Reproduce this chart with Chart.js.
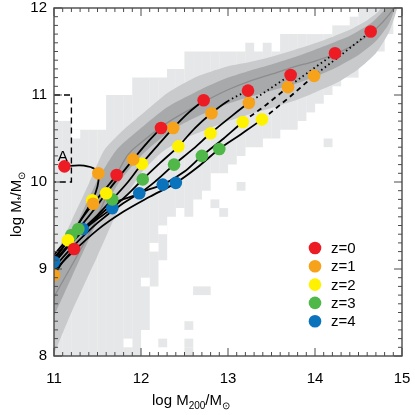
<!DOCTYPE html>
<html>
<head>
<meta charset="utf-8">
<script src="https://cdn.jsdelivr.net/npm/chart.js@4.4.1/dist/chart.umd.min.js"></script>
<style>
  html, body { margin: 0; padding: 0; background: #fff; }
  #wrap { width: 415px; height: 415px; }
</style>
</head>
<body>
<div id="wrap"><canvas id="chart"></canvas></div>
<script>
// histogramme gris clair : colonnes de 0.1 dex (bord gauche, bas, haut)
const histX  = [11.0, 11.1, 11.2, 11.3, 11.4, 11.5, 11.6, 11.7, 11.8, 11.9,
                12.0, 12.1, 12.2, 12.3, 12.4, 12.5, 12.6, 12.7, 12.8, 12.9,
                13.0, 13.1, 13.2, 13.3, 13.4, 13.5, 13.6, 13.7, 13.8, 13.9,
                14.0, 14.1, 14.2, 14.3, 14.4, 14.5, 14.6, 14.7, 14.8];
const histLo = [8.0, 8.0, 8.0, 8.0, 8.0, 8.0, 8.0, 8.0, 8.0, 8.0,
                8.3, 8.8, 9.1, 9.6, 9.7, 9.6, 9.8, 10.0, 10.1, 10.1,
                10.2, 10.3, 10.4, 10.4, 10.5, 10.5, 10.6, 10.6, 10.7, 10.8,
                10.9, 11.0, 11.1, 11.2, 11.2, 11.4, 11.5, 11.5, 11.7];
const histHi = [10.7, 10.7, 10.6, 10.6, 10.6, 10.6, 11.0, 11.0, 11.0, 11.2,
                11.2, 11.2, 11.2, 11.3, 11.3, 11.5, 11.5, 11.5, 11.5, 11.5,
                11.5, 11.5, 11.6, 11.5, 11.6, 11.5, 11.7, 11.7, 11.7, 11.7,
                11.7, 11.7, 11.8, 11.8, 11.9, 12.0, 12.0, 12.0, 12.0];
// cellules isolées et trous blancs
const histExtra = [[12.5, 8.0], [12.5, 8.1], [12.5, 8.3], [12.2, 8.1], [12.6, 8.7], [12.7, 8.7],
                   [12.8, 9.7], [12.9, 9.6], [13.1, 9.9], [12.7, 9.9], [14.1, 10.4]];
const histHoles = [[11.2, 10.5], [11.8, 8.1], [12.0, 8.8], [12.1, 9.2], [12.2, 9.4]];

// bandes de dispersion (contours)
const outerUp = [[10.9, 8.9], [11.0, 9.12], [11.2, 9.55], [11.4, 9.98], [11.58, 10.37], [11.8, 10.6],
                 [12.0, 10.77], [12.3, 11.02], [12.64, 11.21], [13.0, 11.33], [13.25, 11.38], [13.5, 11.44],
                 [13.83, 11.54], [14.1, 11.63], [14.4, 11.75], [14.6, 11.86], [14.72, 11.95], [14.8, 12.05]];
const outerLo = [[10.95, 7.9], [11.2, 8.5], [11.5, 9.15], [11.75, 9.7], [12.0, 10.1], [12.25, 10.35],
                 [12.5, 10.5], [12.75, 10.6], [13.0, 10.7], [13.25, 10.78], [13.5, 10.85], [13.75, 10.93],
                 [14.0, 11.03], [14.25, 11.14], [14.5, 11.3], [14.7, 11.48], [14.85, 11.72], [14.95, 12.05]];
const innerUp = [[10.9, 8.75], [11.0, 8.97], [11.3, 9.6], [11.5, 10.02], [11.72, 10.37], [12.0, 10.62],
                 [12.3, 10.86], [12.7, 11.07], [13.0, 11.2], [13.25, 11.28], [13.5, 11.35], [13.75, 11.43],
                 [14.0, 11.52], [14.4, 11.68], [14.65, 11.83], [14.8, 11.98], [14.85, 12.05]];
const innerLo = [[10.95, 8.35], [11.2, 8.9], [11.5, 9.55], [11.75, 10.0], [12.0, 10.3], [12.25, 10.52],
                 [12.5, 10.68], [12.75, 10.8], [13.0, 10.9], [13.25, 10.98], [13.5, 11.05], [13.75, 11.12],
                 [14.0, 11.21], [14.25, 11.32], [14.5, 11.46], [14.7, 11.62], [14.85, 11.82], [14.93, 12.05]];
const median  = [[10.9, 8.5], [11.0, 8.68], [11.4, 9.4], [11.84, 10.3], [12.0, 10.45], [12.3, 10.68],
                 [12.74, 10.93], [13.0, 11.06], [13.25, 11.16], [13.5, 11.24], [13.75, 11.32], [14.0, 11.39],
                 [14.25, 11.48], [14.5, 11.61], [14.7, 11.76], [14.85, 11.92], [14.92, 12.02]];

// trajectoires (du passé vers z=0) ; indices où la ligne devient tiretée / pointillée
const tracks = [
  [[10.95, 8.93], [11.2, 9.18], [11.5, 9.45], [11.8, 9.66], [12.1, 9.83], [12.4, 9.99], [12.65, 10.17],
   [12.9, 10.38], [13.15, 10.55], [13.39, 10.72], [13.7, 10.97], [13.99, 11.22], [14.3, 11.46], [14.64, 11.73]],
  [[10.95, 8.96], [11.2, 9.24], [11.5, 9.53], [11.8, 9.76], [12.05, 9.9], [12.25, 9.97], [12.5, 10.12],
   [12.7, 10.3], [12.95, 10.5], [13.17, 10.69], [13.43, 10.88], [13.69, 11.09], [13.95, 11.28], [14.23, 11.48]],
  [[10.95, 9.0], [11.2, 9.3], [11.45, 9.55], [11.7, 9.76], [11.98, 9.87], [12.18, 10.02], [12.38, 10.2],
   [12.6, 10.38], [12.8, 10.56], [13.02, 10.74], [13.24, 10.91], [13.48, 11.07], [13.72, 11.23]],
  [[10.95, 9.02], [11.15, 9.26], [11.4, 9.5], [11.67, 9.7], [11.85, 9.86], [12.02, 10.03], [12.22, 10.22],
   [12.43, 10.41], [12.62, 10.62], [12.81, 10.79], [13.0, 10.93], [13.23, 11.05]],
  [[10.95, 9.04], [11.15, 9.3], [11.33, 9.46], [11.5, 9.62], [11.67, 9.8], [11.85, 10.0], [12.01, 10.21],
   [12.2, 10.43], [12.37, 10.62], [12.55, 10.8], [12.72, 10.94]],
  [[10.95, 9.05], [11.1, 9.25], [11.28, 9.46], [11.45, 9.67], [11.6, 9.87], [11.75, 10.06], [11.91, 10.26],
   [12.07, 10.45], [12.23, 10.62]],
  [[10.95, 9.07], [11.05, 9.18], [11.16, 9.33], [11.3, 9.55], [11.45, 9.75], [11.6, 9.93], [11.72, 10.08]],
  [[10.95, 8.86], [11.0, 8.93], [11.1, 9.08], [11.23, 9.23]],
  [[10.95, 9.1], [11.1, 9.28], [11.2, 9.39], [11.33, 9.6], [11.44, 9.79], [11.5, 9.95], [11.51, 10.1],
   [11.45, 10.16], [11.3, 10.19], [11.12, 10.18]]
];
const trackDash = [9, 9, 99, 99, 99, 99, 99, 99, 99];
const trackDot  = [11, 11, 10, 10, 99, 99, 99, 99, 99];

// points colorés par redshift
const z0 = [[11.12, 10.18], [11.23, 9.23], [11.72, 10.08], [12.23, 10.62], [12.72, 10.94], [13.23, 11.05], [13.72, 11.23], [14.23, 11.48], [14.64, 11.73]];
const z1 = [[11.0, 8.93], [11.45, 9.75], [11.51, 10.1], [11.91, 10.26], [12.37, 10.62], [12.81, 10.79], [13.24, 10.91], [13.69, 11.09], [13.99, 11.22]];
const z2 = [[11.16, 9.33], [11.44, 9.79], [11.6, 9.87], [12.01, 10.21], [12.43, 10.41], [12.8, 10.56], [13.17, 10.69], [13.39, 10.72]];
const z3 = [[11.2, 9.39], [11.28, 9.46], [11.67, 9.8], [12.02, 10.03], [12.38, 10.2], [12.7, 10.3], [12.9, 10.38]];
const z4 = [[11.0, 9.08], [11.33, 9.46], [11.67, 9.7], [11.98, 9.87], [12.25, 9.97], [12.4, 9.99]];
const zSets = [z0, z1, z2, z3, z4];
const zLabels = ['z=0', 'z=1', 'z=2', 'z=3', 'z=4'];
const zColors = ['#ed1c24', '#f7a21b', '#fff200', '#50b848', '#0b72bc'];

// boîte tiretée autour de A
const boxA = [[11.0, 11.0], [11.2, 11.0], [11.2, 10.0], [11.0, 10.0]];

const pt = p => ({x: p[0], y: p[1]});
const isMajor = v => Math.abs(v - Math.round(v)) < 1e-6;
const FONT = '"Liberation Sans", Arial, Helvetica, sans-serif';

const datasets = [];

// points en premier (dessinés au-dessus)
zSets.forEach((set, i) => {
  datasets.push({
    type: 'scatter', label: zLabels[i], data: set.map(pt), order: 1,
    backgroundColor: zColors[i], borderWidth: 0, pointRadius: 6.3
  });
});

tracks.forEach((tr, i) => {
  const monotone = i < tracks.length - 1;
  datasets.push({
    type: 'line', data: tr.map(pt), order: 2,
    borderColor: '#000', borderWidth: 1.8, pointRadius: 0, fill: false,
    tension: monotone ? 0 : 0.3,
    cubicInterpolationMode: monotone ? 'monotone' : 'default',
    segment: {
      borderDash: ctx => ctx.p0DataIndex >= trackDot[i] ? [1.5, 3]
                       : ctx.p0DataIndex >= trackDash[i] ? [5, 4] : undefined
    }
  });
});

datasets.push({
  type: 'line', data: boxA.map(pt), order: 3,
  borderColor: '#000', borderWidth: 1.4, borderDash: [6, 4], pointRadius: 0, tension: 0, fill: false
});

datasets.push({
  type: 'line', data: median.map(pt), order: 4,
  borderColor: '#8c8c8c', borderWidth: 1.3, pointRadius: 0, cubicInterpolationMode: 'monotone', fill: false
});
datasets.push({
  type: 'line', data: innerUp.concat(innerLo.slice().reverse()).map(pt), order: 5,
  borderWidth: 0, pointRadius: 0, tension: 0.2, backgroundColor: '#a8a9ab', fill: 'shape'
});
datasets.push({
  type: 'line', data: outerUp.concat(outerLo.slice().reverse()).map(pt), order: 6,
  borderWidth: 0, pointRadius: 0, tension: 0.2, backgroundColor: '#c9cacc', fill: 'shape'
});

// histogramme : barres flottantes
const barOpts = {type: 'bar', grouped: false, barPercentage: 1.02, categoryPercentage: 1, borderWidth: 0};
datasets.push(Object.assign({}, barOpts, {
  data: histHoles.map(c => ({x: c[0] + 0.05, y: [c[1], c[1] + 0.1]})), order: 7, backgroundColor: '#ffffff'
}));
datasets.push(Object.assign({}, barOpts, {
  data: histExtra.map(c => ({x: c[0] + 0.05, y: [c[1], c[1] + 0.1]})), order: 8, backgroundColor: '#e6e7e8'
}));
datasets.push(Object.assign({}, barOpts, {
  data: histX.map((x, i) => ({x: x + 0.05, y: [histLo[i], histHi[i]]})), order: 9, backgroundColor: '#e6e7e8'
}));

// cadre, graduations internes, titres, légende
const decor = {
  id: 'decor',
  afterDraw(chart) {
    const {ctx, chartArea: a} = chart;
    const sx = chart.scales.x, sy = chart.scales.y;
    ctx.save();
    ctx.strokeStyle = '#4a4a4a';
    ctx.lineWidth = 1;
    ctx.beginPath();
    sx.ticks.forEach(t => {
      const p = sx.getPixelForValue(t.value);
      const len = isMajor(t.value) ? 8 : 4;
      ctx.moveTo(p, a.bottom); ctx.lineTo(p, a.bottom - len);
      ctx.moveTo(p, a.top); ctx.lineTo(p, a.top + len);
    });
    sy.ticks.forEach(t => {
      const p = sy.getPixelForValue(t.value);
      const len = isMajor(t.value) ? 8 : 4;
      ctx.moveTo(a.left, p); ctx.lineTo(a.left + len, p);
      ctx.moveTo(a.right, p); ctx.lineTo(a.right - len, p);
    });
    ctx.stroke();
    ctx.lineWidth = 1.4;
    ctx.strokeRect(a.left, a.top, a.right - a.left, a.bottom - a.top);

    // texte avec indices
    const drawSub = (parts, x0, y0) => {
      let x = x0;
      parts.forEach(([txt, sub]) => {
        ctx.font = (sub ? '10px ' : '15px ') + FONT;
        ctx.fillText(txt, x, y0 + (sub ? 4 : 0));
        x += ctx.measureText(txt).width;
      });
    };
    ctx.fillStyle = '#000';
    ctx.textAlign = 'left';
    ctx.textBaseline = 'alphabetic';
    drawSub([['log M', false], ['200', true], ['/M', false], ['\u2299', true]], 152, 405);
    ctx.save();
    ctx.translate(21, 237);
    ctx.rotate(-Math.PI / 2);
    drawSub([['log M', false], ['*', true], ['/M', false], ['\u2299', true]], 0, 0);
    ctx.restore();

    // étiquette A
    ctx.font = '15px ' + FONT;
    ctx.textAlign = 'center';
    ctx.fillText('A', sx.getPixelForValue(11.1), sy.getPixelForValue(10.245));

    // légende
    ctx.textAlign = 'left';
    ctx.textBaseline = 'middle';
    zLabels.forEach((lab, i) => {
      const cx = a.left + 261, cy = a.top + 240 + i * 18.3;
      ctx.fillStyle = zColors[i];
      ctx.beginPath();
      ctx.arc(cx, cy, 6.3, 0, Math.PI * 2);
      ctx.fill();
      ctx.fillStyle = '#000';
      ctx.font = '15px ' + FONT;
      ctx.fillText(lab, cx + 16, cy + 1);
    });
    ctx.restore();
  }
};

Chart.defaults.font.family = FONT;
Chart.defaults.font.size = 15;
Chart.defaults.color = '#000';

new Chart(document.getElementById('chart'), {
  type: 'scatter',
  data: {datasets: datasets},
  options: {
    responsive: true,
    maintainAspectRatio: false,
    animation: false,
    layout: {padding: {top: 8, right: 13, left: 0, bottom: 0}},
    plugins: {legend: {display: false}, tooltip: {enabled: false}},
    scales: {
      x: {
        type: 'linear', min: 11, max: 15, offset: false,
        grid: {display: false, drawTicks: false},
        border: {display: false},
        ticks: {
          stepSize: 0.1, autoSkip: false, maxRotation: 0, padding: 14,
          callback: v => isMajor(v) ? String(Math.round(v)) : ''
        },
        afterFit: s => { s.height = 59; s.paddingLeft = 0; s.paddingRight = 0; }
      },
      y: {
        type: 'linear', min: 8, max: 12,
        grid: {display: false, drawTicks: false},
        border: {display: false},
        ticks: {
          stepSize: 0.1, autoSkip: false, padding: 7,
          callback: v => isMajor(v) ? String(Math.round(v)) : ''
        },
        afterFit: s => { s.width = 54; s.paddingTop = 0; s.paddingBottom = 0; }
      }
    }
  },
  plugins: [decor]
});
</script>
</body>
</html>
